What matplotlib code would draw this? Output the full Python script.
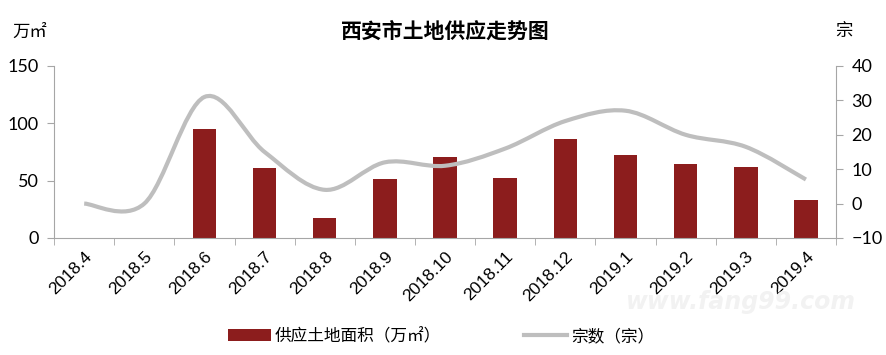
import numpy as np
import matplotlib
matplotlib.use("Agg")
import matplotlib.pyplot as plt
from matplotlib.path import Path
from matplotlib.patches import PathPatch, Patch
from matplotlib.lines import Line2D

plt.rcParams['font.family'] = ['Noto Sans CJK SC', 'DejaVu Sans']

# data
months = ['2018.4', '2018.5', '2018.6', '2018.7', '2018.8', '2018.9', '2018.10',
          '2018.11', '2018.12', '2019.1', '2019.2', '2019.3', '2019.4']
area = [0, 0, 95, 61, 17, 51.5, 70.5, 52, 86, 72.5, 64.5, 62, 33]   # 万㎡
deals = [0, 0, 31, 15, 4, 12, 11, 16, 24, 27, 20, 16.5, 7]          # 宗

bar_color = '#8C1D1D'
line_color = '#BEBEBE'
axis_color = '#A6A6A6'


def smooth_path(x, y):
    """Catmull-Rom style cubic Bezier through the points (like Excel's smoothed line)."""
    x = np.asarray(x, float)
    y = np.asarray(y, float)
    px = np.concatenate([[x[0]], x, [x[-1]]])
    py = np.concatenate([[y[0]], y, [y[-1]]])
    verts = [(x[0], y[0])]
    codes = [Path.MOVETO]
    for i in range(1, len(x)):
        c1 = (px[i] + (px[i + 1] - px[i - 1]) / 6, py[i] + (py[i + 1] - py[i - 1]) / 6)
        c2 = (px[i + 1] - (px[i + 2] - px[i]) / 6, py[i + 1] - (py[i + 2] - py[i]) / 6)
        verts += [c1, c2, (px[i + 1], py[i + 1])]
        codes += [Path.CURVE4] * 3
    return Path(verts, codes)


fig = plt.figure(figsize=(8.87, 3.55), dpi=100)
ax = fig.add_axes([0.061, 0.3296, 0.8815, 0.4845])
ax2 = ax.twinx()

xs = np.arange(len(months))
ax.bar(xs, area, width=0.39, color=bar_color, zorder=2)
ax.set_xlim(-0.5, len(months) - 0.5)
ax.set_ylim(0, 150)
ax.set_yticks([0, 50, 100, 150])

ax2.add_patch(PathPatch(smooth_path(xs, deals), facecolor='none',
                        edgecolor=line_color, lw=3, capstyle='butt', zorder=3))
ax2.set_ylim(-10, 40)
ax2.set_yticks([-10, 0, 10, 20, 30, 40])

ax.set_xticks(xs)
ax.set_xticklabels(months, rotation=45, ha='right', rotation_mode='anchor',
                   fontsize=12.5, family='Liberation Sans')
ax.set_xticks(np.arange(len(months) + 1) - 0.5, minor=True)
ax.tick_params(axis='x', which='major', length=0, pad=8)
ax.tick_params(axis='x', which='minor', length=5, color=axis_color, direction='out')

for a in (ax, ax2):
    a.spines['top'].set_visible(False)
    a.spines['bottom'].set_color(axis_color)
    a.spines['left'].set_color(axis_color)
    a.spines['right'].set_color(axis_color)
ax.spines['right'].set_visible(False)
ax2.spines['left'].set_visible(False)
ax2.spines['bottom'].set_visible(False)

for lab in ax.get_yticklabels() + ax2.get_yticklabels():
    lab.set_family('Lato')
    lab.set_fontsize(13)
ax.tick_params(axis='y', length=5, color=axis_color, pad=6)
ax2.tick_params(axis='y', length=5, color=axis_color, pad=6)

fig.text(0.502, 0.913, '西安市土地供应走势图', ha='center', va='center',
         fontsize=15, fontweight='bold')
fig.text(0.033, 0.91, '万㎡', ha='center', va='center', fontsize=12.5)
fig.text(0.951, 0.913, '宗', ha='center', va='center', fontsize=12.5)

fig.text(0.835, 0.15, 'www.fang99.com', ha='center', va='center', fontsize=17,
         color='#F2F2F2', style='italic', fontweight='bold', family='DejaVu Sans')

handles = [Patch(facecolor=bar_color, edgecolor='none'),
           Line2D([0], [0], color=line_color, lw=3)]
fig.legend(handles, ['供应土地面积（万㎡）', '宗数（宗）'], loc='center',
           bbox_to_anchor=(0.497, 0.052), ncol=2, frameon=False, fontsize=12,
           handlelength=2.6, handleheight=0.7, columnspacing=5.0, handletextpad=0.2)

fig.savefig('out.png', dpi=100)
